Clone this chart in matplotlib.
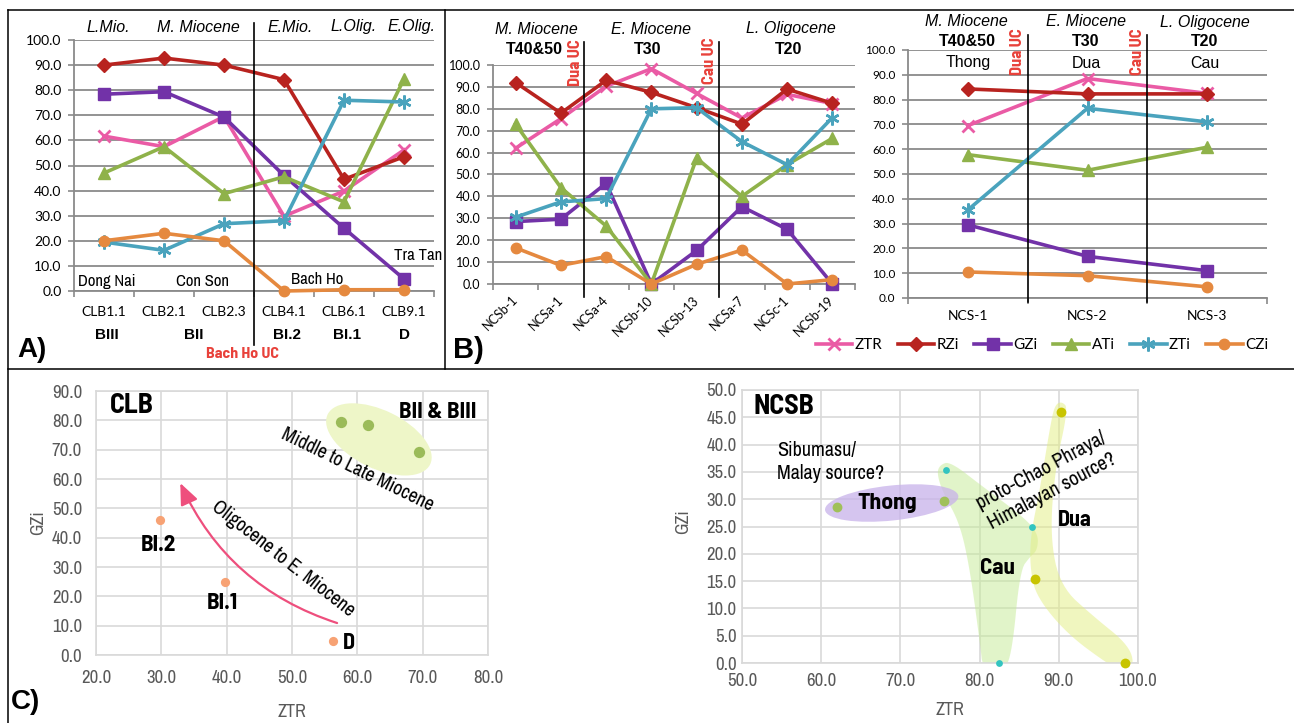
import numpy as np
import matplotlib
matplotlib.use("Agg")
import matplotlib.pyplot as plt
from matplotlib import font_manager
from matplotlib.lines import Line2D
from matplotlib.patches import Ellipse, Polygon, FancyArrowPatch
from matplotlib.ticker import FormatStrFormatter
from matplotlib.transforms import ScaledTranslation, blended_transform_factory

W, H = 1294, 723

series = ["ZTR", "RZi", "GZi", "ATi", "ZTi", "CZi"]

# A) Cuu Long Basin samples
clb_samples = ["CLB1.1", "CLB2.1", "CLB2.3", "CLB4.1", "CLB6.1", "CLB9.1"]
clb_ztr = [61.7, 57.5, 69.5, 29.8, 39.8, 56.2]
clb_rzi = [90.0, 92.8, 90.0, 84.2, 44.5, 53.5]
clb_gzi = [78.4, 79.4, 69.3, 46.0, 25.0, 4.8]
clb_ati = [47.0, 57.5, 38.8, 45.5, 35.5, 84.5]
clb_zti = [19.5, 16.2, 26.8, 28.0, 76.0, 75.3]
clb_czi = [20.0, 23.0, 20.0, 0.0, 0.5, 0.5]
clb_group = ["Miocene", "Miocene", "Miocene", "Oligo", "Oligo", "Oligo"]
clb_units = ["BIII", "BII", "BI.2", "BI.1", "D"]
clb_unit_x = [0.05, 1.5, 3.05, 4.05, 5.0]
clb_ages = ["L.Mio.", "M. Miocene", "E.Mio.", "L.Olig.", "E.Olig."]

# B) Nam Con Son Basin samples
ncsb_samples = ["NCSb-1", "NCSa-1", "NCSa-4", "NCSb-10", "NCSb-13", "NCSa-7", "NCSc-1", "NCSb-19"]
ncsb_ztr = [62.0, 75.5, 90.3, 98.3, 87.0, 75.8, 86.6, 82.4]
ncsb_rzi = [92.0, 78.0, 93.0, 87.5, 80.5, 73.0, 89.0, 82.5]
ncsb_gzi = [28.5, 29.6, 46.0, 0.0, 15.3, 35.3, 25.0, 0.0]
ncsb_ati = [73.0, 44.0, 26.5, 0.0, 57.5, 40.0, 54.5, 66.5]
ncsb_zti = [30.5, 37.5, 39.0, 80.0, 80.5, 65.0, 54.5, 76.0]
ncsb_czi = [16.5, 8.5, 12.5, 0.0, 9.0, 15.5, 0.0, 2.0]
ncsb_group = ["Thong", "Thong", "Dua", "Dua", "Dua", "Cau", "Cau", "Cau"]

ncs_samples = ["NCS-1", "NCS-2", "NCS-3"]
ncs_ztr = [69.5, 88.5, 82.5]
ncs_rzi = [84.3, 82.3, 82.3]
ncs_gzi = [29.5, 16.8, 11.0]
ncs_ati = [57.8, 51.5, 60.8]
ncs_zti = [35.5, 76.5, 71.0]
ncs_czi = [10.5, 9.0, 4.5]
ncs_formations = ["Thong", "Dua", "Cau"]

styles = {
    "ZTR": dict(color="#ea5ba5", marker="x", ms=9, mew=2.0),
    "RZi": dict(color="#b8231f", marker="D", ms=7, mew=1),
    "GZi": dict(color="#7232a8", marker="s", ms=8, mew=1),
    "ATi": dict(color="#8fb24a", marker="^", ms=8.5, mew=1),
    "ZTi": dict(color="#4aa3bd", marker=(6, 2, 0), ms=10, mew=1.8),
    "CZi": dict(color="#e5893f", marker="o", ms=7.5, mew=1),
}
group_colors = {"Miocene": "#9bbb59", "Oligo": "#f7a274",
                "Thong": "#a0c05a", "Dua": "#c8c400", "Cau": "#33c4c0"}
group_sizes = {"Miocene": 66, "Oligo": 44, "Thong": 50, "Dua": 50, "Cau": 24}

# narrow faces for the Arial-Narrow-like labels
_names = {f.name for f in font_manager.fontManager.ttflist}
if "Liberation Sans Narrow" in _names:
    NARROW = ["Liberation Sans Narrow", "DejaVu Sans"]
    NARROW_B = NARROW
else:
    NARROW = ["Archivo Narrow", "DejaVu Sans"] if "Archivo Narrow" in _names else ["DejaVu Sans"]
    NARROW_B = ["DejaVu Sans"]
    for cand in ["Barlow Semi Condensed", "Cabin Condensed", "Asap Condensed"]:
        if cand in _names:
            NARROW_B = [cand, "DejaVu Sans"]
            break

SANS = ["Liberation Sans", "DejaVu Sans"]
TICK = ["Lato", "DejaVu Sans"]
GRAY = "#8a8a8a"
RED = "#e8413a"
plt.rcParams["font.family"] = SANS

fig = plt.figure(figsize=(W / 100, H / 100), dpi=100)


def axes_px(left, top, right, bottom):
    return fig.add_axes([left / W, 1 - bottom / H, (right - left) / W, (bottom - top) / H])


def ftext(px, py, s, **kw):
    kw.setdefault("ha", "center")
    kw.setdefault("va", "center")
    fig.text(px / W, 1 - py / H, s, **kw)


def fline(x0, y0, x1, y1, **kw):
    fig.add_artist(Line2D([x0 / W, x1 / W], [1 - y0 / H, 1 - y1 / H],
                          transform=fig.transFigure, color="black", lw=1.1, **kw))


def narrow_kw(bold=False):
    fam = NARROW_B if bold else NARROW
    kw = dict(family=fam, fontweight="bold" if bold else "normal")
    if fam[0] == "DejaVu Sans":
        kw["fontstretch"] = "condensed"
    return kw


def line_panel(ax, samples, data):
    x = np.arange(len(samples))
    for name, vals in zip(series, data):
        st = styles[name]
        ax.plot(x, vals, color=st["color"], lw=2.6, marker=st["marker"], ms=st["ms"],
                mew=st["mew"], mec=st["color"], mfc=st["color"], label=name,
                clip_on=False, zorder=3)
    ax.set_xlim(-0.5, len(samples) - 0.5)
    ax.set_ylim(0, 100)
    ax.set_yticks(np.arange(0, 101, 10))
    ax.yaxis.set_major_formatter(FormatStrFormatter("%.1f"))
    ax.set_xticks(x)
    ax.set_xticklabels(samples)
    ax.set_xticks(np.arange(-0.5, len(samples)), minor=True)
    ax.tick_params(axis="x", which="major", length=0, labelsize=10, labelfontfamily=TICK)
    ax.tick_params(axis="x", which="minor", length=4, width=1.2, color=GRAY)
    ax.tick_params(axis="y", length=4, width=1.2, color=GRAY, labelsize=9,
                   labelfontfamily=TICK, pad=5)
    ax.grid(axis="y", color=GRAY, lw=1.3)
    ax.set_axisbelow(True)
    for s in ["top", "right"]:
        ax.spines[s].set_visible(False)
    for s in ["left", "bottom"]:
        ax.spines[s].set_color(GRAY)
        ax.spines[s].set_linewidth(1.3)


def divider(ax, xpos, y0, y1):
    tr = blended_transform_factory(ax.transData, ax.transAxes)
    ax.plot([xpos, xpos], [y0, y1], color="black", lw=1.2, transform=tr, clip_on=False, zorder=4)


# ---------- Panel A ----------
axA = axes_px(74, 40, 434, 291)
line_panel(axA, clb_samples, [clb_ztr, clb_rzi, clb_gzi, clb_ati, clb_zti, clb_czi])
axA.tick_params(axis="x", which="major", pad=11)
axA.tick_params(axis="y", labelsize=10)
divider(axA, 2.5, -0.215, 1.068)
trA = blended_transform_factory(axA.transData, fig.transFigure)
for u, ux in zip(clb_units, clb_unit_x):
    axA.text(ux, 1 - 335 / H, u, transform=trA, ha="center", va="center",
             fontsize=11, fontweight="bold")
for s, px in zip(clb_ages, [108, 198, 290, 354, 412]):
    ftext(px, 27, s, fontsize=11.5, style="italic")
for s, px, py in [("Dong Nai", 107, 282), ("Con Son", 202, 282), ("Bach Ho", 317, 280),
                  ("Tra Tan", 418, 255)]:
    ftext(px, py, s, fontsize=12, **narrow_kw())
ftext(243, 354, "Bach Ho UC", fontsize=11.5, color=RED, **narrow_kw(True))
ftext(32, 350, "A)", fontsize=20, fontweight="bold")

# ---------- Panel B (NCSB) ----------
axB = axes_px(493, 65, 855, 284)
line_panel(axB, ncsb_samples, [ncsb_ztr, ncsb_rzi, ncsb_gzi, ncsb_ati, ncsb_zti, ncsb_czi])
axB.set_xticklabels(ncsb_samples, rotation=45, ha="right", va="center",
                    rotation_mode="anchor", fontsize=9)
axB.tick_params(axis="x", which="major", pad=10)
divider(axB, 1.5, -0.059, 1.105)
divider(axB, 4.5, -0.059, 1.105)
for s, px in [("M. Miocene", 536), ("E. Miocene", 651), ("L. Oligocene", 791)]:
    ftext(px, 29, s, fontsize=11.5, style="italic")
for s, px in [("T40&50", 534), ("T30", 648), ("T20", 789)]:
    ftext(px, 50, s, fontsize=11.5, fontweight="bold")
ftext(576, 63, "Dua UC", fontsize=12, color=RED, rotation=90, **narrow_kw(True))
ftext(710, 61, "Cau UC", fontsize=12, color=RED, rotation=90, **narrow_kw(True))
ftext(468, 350, "B)", fontsize=21, fontweight="bold")

# ---------- Panel B (NCS) ----------
axN = axes_px(908, 50, 1267, 298)
line_panel(axN, ncs_samples, [ncs_ztr, ncs_rzi, ncs_gzi, ncs_ati, ncs_zti, ncs_czi])
axN.tick_params(axis="x", which="major", pad=9)
axN.tick_params(axis="y", labelsize=8.5)
divider(axN, 0.5, -0.016, 1.06)
divider(axN, 1.5, -0.016, 1.06)
for s, px in [("M. Miocene", 966), ("E. Miocene", 1086), ("L. Oligocene", 1205)]:
    ftext(px, 22, s, fontsize=11.5, style="italic")
for s, px in [("T40&50", 967), ("T30", 1086), ("T20", 1205)]:
    ftext(px, 41, s, fontsize=11.5, fontweight="bold")
for s, px in zip(ncs_formations, [968, 1086, 1205]):
    ftext(px, 63, s, fontsize=11.5)
ftext(1017, 52, "Dua UC", fontsize=12, color=RED, rotation=90, **narrow_kw(True))
ftext(1137, 52, "Cau UC", fontsize=12, color=RED, rotation=90, **narrow_kw(True))

handles, labels = axN.get_legend_handles_labels()
fig.legend(handles, labels, loc="center", bbox_to_anchor=(1042 / W, 1 - 345 / H), ncol=6,
           frameon=False, prop={"family": TICK, "size": 11}, handlelength=2.4,
           handletextpad=0.15, columnspacing=1.0, borderaxespad=0)


# ---------- Panel C ----------
def scatter_panel(ax, xlim, ylim, step_x, step_y, xpad, ypad):
    ax.set_xlim(*xlim)
    ax.set_ylim(*ylim)
    ax.set_xticks(np.arange(xlim[0], xlim[1] + 0.1, step_x))
    ax.set_yticks(np.arange(ylim[0], ylim[1] + 0.1, step_y))
    ax.xaxis.set_major_formatter(FormatStrFormatter("%.1f"))
    ax.yaxis.set_major_formatter(FormatStrFormatter("%.1f"))
    ax.grid(color="#d9d9d9", lw=1.2)
    ax.set_axisbelow(True)
    for s in ax.spines.values():
        s.set_color("#d9d9d9")
        s.set_linewidth(1.2)
    ax.tick_params(length=0, labelcolor="#595959", labelsize=13.5, labelfontfamily=NARROW)
    ax.tick_params(axis="x", pad=xpad)
    ax.tick_params(axis="y", pad=ypad)


def blob(ax, pts, color, alpha, n=3):
    # corner-cut (Chaikin) smoothing of a hand-traced outline
    p = np.asarray(pts, float)
    for _ in range(n):
        q = np.roll(p, -1, axis=0)
        a = 0.75 * p + 0.25 * q
        b = 0.25 * p + 0.75 * q
        p = np.stack([a, b], axis=1).reshape(-1, 2)
    ax.add_patch(Polygon(p, closed=True, fc=color, ec="none", alpha=alpha, zorder=1))


def ellipse(ax, cx, cy, w_px, h_px, angle, **kw):
    tr = fig.dpi_scale_trans + ScaledTranslation(cx, cy, ax.transData)
    ax.add_patch(Ellipse((0, 0), w_px / 100, h_px / 100, angle=angle, transform=tr, **kw))


# CLB scatter
axC = axes_px(96, 391, 488, 655)
scatter_panel(axC, (20, 80), (0, 90), 10, 10, 11, 10)
ellipse(axC, 63.3, 73.5, 114, 58, -26, fc="#eef6c8", ec="none", zorder=1)
for g in ["Miocene", "Oligo"]:
    idx = [i for i, v in enumerate(clb_group) if v == g]
    axC.scatter([clb_ztr[i] for i in idx], [clb_gzi[i] for i in idx], s=group_sizes[g],
                color=group_colors[g], zorder=3, lw=0)
axC.add_patch(FancyArrowPatch((56.9, 10.9), (32.9, 58.6), connectionstyle="arc3,rad=-0.22",
                              arrowstyle="-|>,head_length=13,head_width=5.5", color="#ee4f7d",
                              lw=1.6, shrinkA=0, shrinkB=0, zorder=2))
axC.text(22.1, 84.9, "CLB", fontsize=20, ha="left", va="center", **narrow_kw(True))
axC.text(72.3, 82.8, "BII & BIII", fontsize=16.5, ha="center", va="center", **narrow_kw(True))
axC.text(29.6, 37.5, "BI.2", fontsize=16.5, ha="center", va="center", **narrow_kw(True))
axC.text(39.4, 17.7, "BI.1", fontsize=16.5, ha="center", va="center", **narrow_kw(True))
axC.text(57.8, 4.1, "D", fontsize=16, ha="left", va="center", **narrow_kw(True))
axC.text(60.0, 63.1, "Middle to Late Miocene", fontsize=14, rotation=-26,
         rotation_mode="anchor", ha="center", va="center", **narrow_kw())
axC.text(48.6, 32.7, "Oligocene to E. Miocene", fontsize=14, rotation=-38,
         rotation_mode="anchor", ha="center", va="center", **narrow_kw())
ftext(292, 712, "ZTR", fontsize=13, color="#595959", **narrow_kw())
ftext(38, 523, "GZi", fontsize=13, color="#595959", rotation=90, **narrow_kw())
ftext(25, 702, "C)", fontsize=20, fontweight="bold")

# NCSB scatter
axS = axes_px(742, 390, 1138, 663)
scatter_panel(axS, (50, 100), (0, 50), 10, 5, 7, 4)
cau_outline = [(75.0, 36.3), (76.3, 36.9), (80.4, 32.3), (85.5, 26.8), (87.4, 23.7), (87.3, 20.7),
               (86.4, 19.5), (85.1, 17.0), (84.1, 1.8), (83.0, -1.6), (80.4, -1.0), (80.1, 3.0),
               (78.8, 17.0), (77.5, 25.6), (75.4, 31.1), (74.6, 34.7)]
dua_outline = [(90.4, 47.9), (91.2, 46.6), (89.5, 35.3), (88.9, 23.1), (90.2, 14.0), (94.4, 8.5),
               (98.6, 3.6), (99.6, -0.1), (98.2, -1.6), (96.1, -0.1), (91.0, 5.4), (87.2, 12.1),
               (86.4, 17.0), (86.4, 23.1), (87.6, 31.7), (88.9, 43.3), (89.5, 47.3)]
blob(axS, cau_outline, "#c5eb95", 0.5)
blob(axS, dua_outline, "#e3ee80", 0.5)
ellipse(axS, 68.9, 29.3, 134, 35, 6, fc="#c8b2ea", ec="none", alpha=0.75, zorder=1.5)
for g in ["Thong", "Dua", "Cau"]:
    idx = [i for i, v in enumerate(ncsb_group) if v == g]
    axS.scatter([ncsb_ztr[i] for i in idx], [ncsb_gzi[i] for i in idx], s=group_sizes[g],
                color=group_colors[g], zorder=3, lw=0, clip_on=False)
axS.text(51.4, 46.9, "NCSB", fontsize=20, ha="left", va="center", **narrow_kw(True))
axS.text(54.4, 36.8, "Sibumasu/\nMalay source?", fontsize=14.5, ha="left",
         va="center", linespacing=1.3, **narrow_kw())
axS.text(68.3, 29.3, "Thong", fontsize=17, ha="center", va="center", **narrow_kw(True))
axS.text(92.0, 26.2, "Dua", fontsize=16, ha="center", va="center", **narrow_kw(True))
axS.text(82.3, 17.4, "Cau", fontsize=16.5, ha="center", va="center", **narrow_kw(True))
axS.text(88.5, 33.3, "proto-Chao Phraya/\nHimalayan source?", fontsize=14.5,
         rotation=28, rotation_mode="anchor", ha="center", va="center", linespacing=1.3,
         **narrow_kw())
ftext(950, 710, "ZTR", fontsize=13, color="#595959", **narrow_kw())
ftext(683, 522, "GZi", fontsize=13, color="#595959", rotation=90, **narrow_kw())

# frame lines
fline(8, 10, 1294, 10)
fline(8, 10, 8, 723)
fline(445, 10, 445, 369)
fline(8, 369, 1294, 369)

fig.savefig("out.png", dpi=100, facecolor="white")
